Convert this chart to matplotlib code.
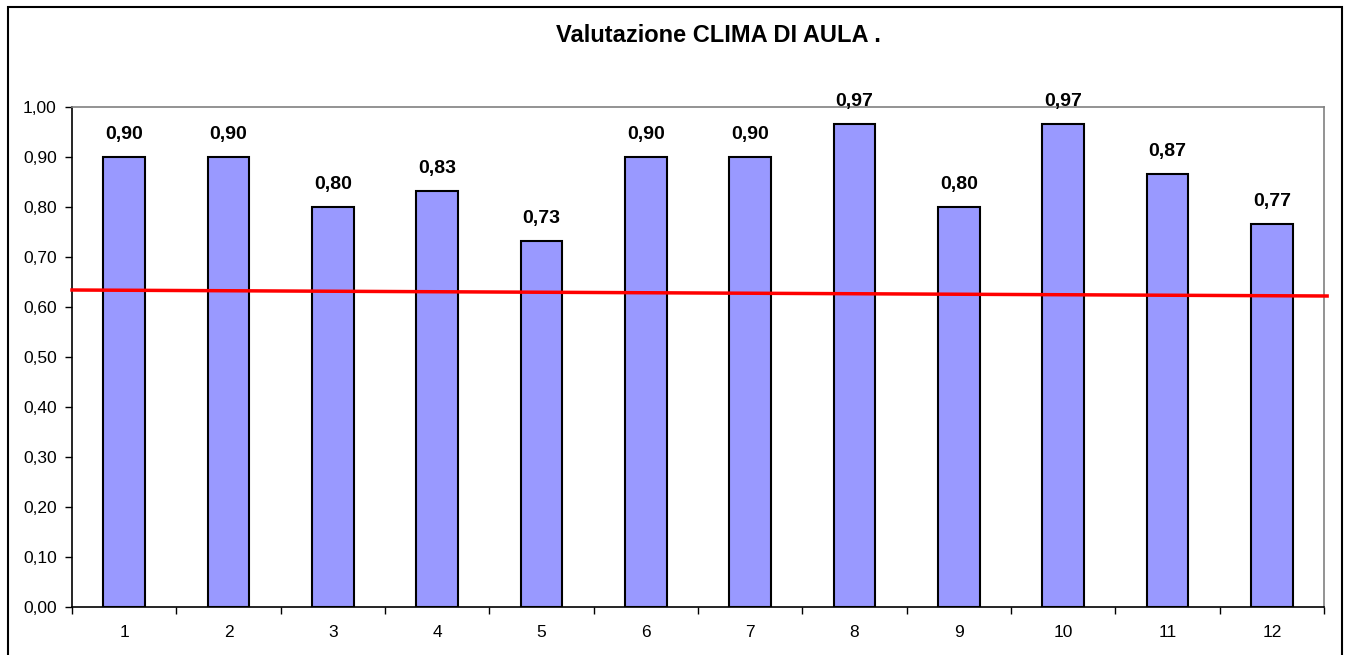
import matplotlib.pyplot as plt
import numpy as np
from matplotlib.patches import Rectangle

# dati
categorie = [str(i) for i in range(1, 13)]
valori = [0.90, 0.90, 0.80, 0.833, 0.733, 0.90, 0.90, 0.967, 0.80, 0.967, 0.867, 0.767]
# linea di tendenza (valore al bordo sinistro e destro)
tendenza = [0.634, 0.622]

plt.rcParams['font.family'] = ['Liberation Sans', 'DejaVu Sans']

fig = plt.figure(figsize=(13.47, 6.55), dpi=100)
ax = fig.add_axes([72 / 1347, 48 / 655, 1252 / 1347, 500 / 655])

x = np.arange(1, len(valori) + 1)
ax.bar(x, valori, width=0.4, color='#9999FF', edgecolor='black', linewidth=1.5, zorder=2)

# etichette sopra le barre
for xi, v in zip(x, valori):
    ax.annotate(f"{v:.2f}".replace('.', ','), (xi, v), xytext=(0, 10),
                textcoords='offset points', ha='center', va='bottom',
                fontsize=14, fontweight='bold')

# tendenza
ax.plot([0.5, 12.53], tendenza, color='red', linewidth=2.5, zorder=3, clip_on=False)

ax.set_xlim(0.5, 12.5)
ax.set_ylim(0, 1.0)
yt = np.arange(0, 1.01, 0.1)
ax.set_yticks(yt)
ax.set_yticklabels([f"{t:.2f}".replace('.', ',') for t in yt], fontsize=12.5)
ax.set_xticks(x)
ax.set_xticklabels(categorie, fontsize=12.5)
ax.tick_params(axis='x', length=0, pad=13)
ax.set_xticks(np.arange(0.5, 12.6, 1), minor=True)
ax.tick_params(axis='x', which='minor', length=5, width=1)
ax.tick_params(axis='y', length=5, width=1, pad=6)

for s in ['top', 'right']:
    ax.spines[s].set_color('#808080')
    ax.spines[s].set_linewidth(1.2)
for s in ['left', 'bottom']:
    ax.spines[s].set_linewidth(1.2)

fig.text(718 / 1347, 1 - 35 / 655, 'Valutazione CLIMA DI AULA .', ha='center', va='center',
         fontsize=17, fontweight='bold')

# bordo esterno
fig.patches.append(Rectangle((8 / 1347, -0.05), 1334 / 1347, 1.05 - 7 / 655,
                             transform=fig.transFigure, fill=False, edgecolor='black',
                             linewidth=1.5))

fig.savefig('out.png', dpi=100)
